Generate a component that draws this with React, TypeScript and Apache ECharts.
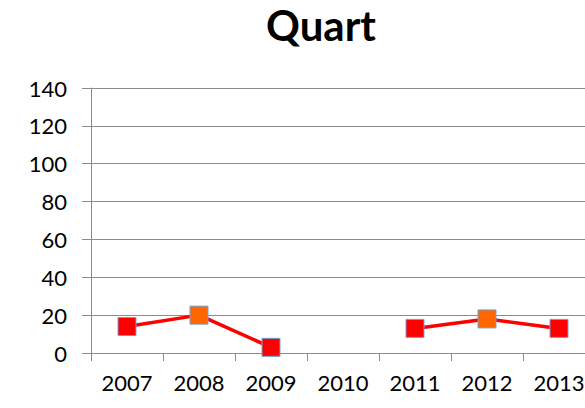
import React, { useEffect, useRef } from "react";
import * as echarts from "echarts";

const categories = ["2007", "2008", "2009", "2010", "2011", "2012", "2013"];
const values: (number | null)[] = [14, 20, 3, null, 13, 18, 13];
const pointColors = ["#FF0000", "#FF6600", "#FF0000", "#FF0000", "#FF0000", "#FF6600", "#FF0000"];
const yTicks = { min: 0, max: 140, interval: 20 };

export default function App() {
  const ref = useRef<HTMLDivElement>(null);
  useEffect(() => {
    document.body.style.margin = "0";
    const chart = echarts.init(ref.current!, null, { renderer: "svg" });
    const font = "Lato, 'Open Sans', sans-serif";
    chart.setOption({
      animation: false,
      backgroundColor: "#ffffff",
      title: {
        text: "Quart",
        left: 316,
        textAlign: "center",
        top: -1,
        textStyle: { fontFamily: font, fontSize: 42, fontWeight: "bold", color: "#000" },
      },
      grid: { left: 91, top: 88, width: 504, height: 265, containLabel: false },
      xAxis: {
        type: "category",
        data: categories,
        boundaryGap: true,
        axisLine: { lineStyle: { color: "#8c8c8c", width: 1 } },
        axisTick: { show: true, length: 8, lineStyle: { color: "#8c8c8c" } },
        axisLabel: { color: "#000", fontSize: 22, fontFamily: font, margin: 18, interval: 0 },
        splitLine: { show: false },
      },
      yAxis: {
        type: "value",
        min: yTicks.min,
        max: yTicks.max,
        interval: yTicks.interval,
        axisLine: { show: true, lineStyle: { color: "#8c8c8c", width: 1 } },
        axisTick: { show: true, length: 9, lineStyle: { color: "#8c8c8c" } },
        axisLabel: { color: "#000", fontSize: 22, fontFamily: font, margin: 24 },
        splitLine: { show: true, lineStyle: { color: "#8c8c8c", width: 1 } },
      },
      series: [
        {
          type: "line",
          data: values.map((v, i) => ({
            value: v,
            itemStyle: { color: pointColors[i], borderColor: "#6FA0D8", borderWidth: 1 },
          })),
          connectNulls: false,
          symbol: "rect",
          symbolSize: 18,
          lineStyle: { color: "#FF0000", width: 3.5 },
          itemStyle: { color: "#FF0000", borderColor: "#6FA0D8", borderWidth: 1 },
          z: 3,
        },
      ],
    });
    return () => chart.dispose();
  }, []);
  return (
    <div style={{ width: 585, height: 408, overflow: "hidden", position: "relative" }}>
      <div ref={ref} style={{ width: 610, height: 408 }} />
    </div>
  );
}
